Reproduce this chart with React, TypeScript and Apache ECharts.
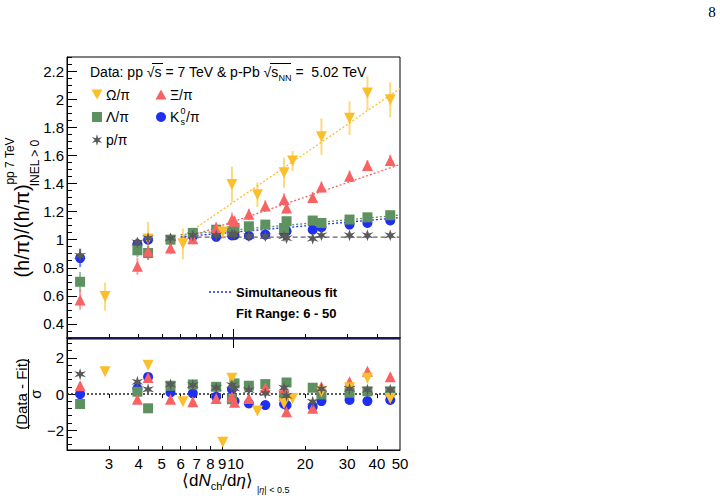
import React, { useEffect, useRef } from "react";
import * as echarts from "echarts";

const FONT = '"Liberation Sans", Arial, Helvetica, sans-serif';

// ---------- data ----------
// <dNch/deta> of the pp 7 TeV classes and of the p-Pb 5.02 TeV classes
const ppX = [2.27, 3.95, 5.44, 6.75, 8.46, 10.1, 11.6, 13.6, 16.7, 21.5];
const pPbX = [4.38, 9.85, 16.3, 23.4, 30.7, 36.5, 45.5];
const omegaPPX = [2.89, 6.13, 9.02, 12.6, 17.7];

const omegaX = [...omegaPPX, ...pPbX];
const commonX = [...ppX, ...pPbX];

// Omega/pi
const omegaY = [0.595, 0.97, 1.055, 1.32, 1.56, 1.005, 1.393, 1.476, 1.733, 1.864, 2.043, 1.995];
const omegaErr = [0.1, 0.11, 0.05, 0.088, 0.071, 0.12, 0.127, 0.107, 0.13, 0.12, 0.124, 0.125];
const omegaRes = [1.23, -0.42, -2.67, -0.94, -0.24, 1.6, 0.87, -0.52, 0.13, 0.35, 0.87, -0.24];

// Xi/pi
const xiY = [0.571, 0.81, 0.94, 1.007, 1.085, 1.131, 1.18, 1.24, 1.226, 1.3, 0.917, 1.143, 1.286, 1.375, 1.452, 1.527, 1.564];
const xiErr = [0.07, 0.06, 0.045, 0.04, 0.04, 0.04, 0.04, 0.04, 0.04, 0.04, 0.06, 0.05, 0.045, 0.04, 0.04, 0.04, 0.04];
const xiRes = [0.46, -0.29, -0.29, -0.42, -0.24, -0.46, -0.24, 0.35, -0.98, -0.79, 0.92, -0.15, 0.31, 0.4, 0.68, 1.27, 0.96];

// Lambda/pi
const lambdaY = [0.7, 0.924, 1.0, 1.048, 1.071, 1.083, 1.095, 1.107, 1.131, 1.136, 0.905, 1.06, 1.083, 1.119, 1.143, 1.159, 1.174];
const lambdaErr = [0.07, 0.05, 0.035, 0.03, 0.03, 0.03, 0.03, 0.03, 0.03, 0.03, 0.05, 0.035, 0.03, 0.03, 0.03, 0.03, 0.03];
const lambdaRes = [-0.55, 0.13, 0.46, 0.53, 0.4, 0.59, 0.46, 0.55, 0.64, 0.35, -0.79, -0.29, -0.1, -0.02, 0.07, 0.15, 0.15];

// K0s/pi
const k0sY = [0.869, 0.969, 1.0, 1.024, 1.02, 1.031, 1.028, 1.036, 1.06, 1.071, 1.0, 1.03, 1.05, 1.088, 1.107, 1.119, 1.136];
const k0sErr = [0.065, 0.03, 0.02, 0.02, 0.02, 0.02, 0.02, 0.02, 0.02, 0.02, 0.03, 0.02, 0.02, 0.02, 0.02, 0.02, 0.02];
const k0sRes = [0.0, 0.31, 0.09, 0.04, -0.15, -0.39, -0.52, -0.61, -0.61, -0.7, 0.95, 0.26, -0.55, -0.39, -0.33, -0.39, -0.33];

// p/pi
const protonY = [0.886, 0.98, 1.01, 1.03, 1.03, 1.036, 1.024, 1.024, 1.01, 1.007, 1.01, 1.04, 1.025, 1.031, 1.031, 1.031, 1.031];
const protonErr = [0.05, 0.03, 0.025, 0.025, 0.025, 0.025, 0.025, 0.025, 0.025, 0.025, 0.03, 0.025, 0.025, 0.025, 0.025, 0.025, 0.025];
const protonRes = [1.1, 0.68, 0.53, 0.5, 0.35, 0.31, 0.22, 0.04, -0.09, -0.42, 0.26, 0.5, 0.35, 0.29, 0.29, 0.24, 0.24];

// simultaneous fit curves (range 6 - 50)
const fitX = [6, 10, 20, 50];
const fitOmega = [1.01, 1.267, 1.615, 2.076];
const fitXi = [1.0, 1.129, 1.303, 1.535];
const fitLambda = [1.035, 1.069, 1.114, 1.175];
const fitK0s = [1.02, 1.053, 1.098, 1.157];
const fitProton = [1.018, 1.018, 1.018, 1.018];

// zero reference line of the residual panel
const zeroLineX = [2, 50];

// axis ticks / labels
const xLabels = [3, 4, 5, 6, 7, 8, 9, 10, 20, 30, 40, 50];
const xMinorTicks = [3, 4, 5, 6, 7, 8, 9, 20, 30, 40];
const xMajorTicks = [10];
const yUpperLabels = [0.4, 0.6, 0.8, 1, 1.2, 1.4, 1.6, 1.8, 2, 2.2];
const yLowerLabels = [-2, 0, 2];
const yLowerMinor = [-2.8, -2.4, -1.6, -1.2, -0.8, -0.4, 0.4, 0.8, 1.2, 1.6, 2.4, 2.8];

const yUpperMinor: number[] = [];
for (let i = 6; i <= 46; i++) {
  const v = +(i * 0.05).toFixed(2);
  if (Math.abs(v * 5 - Math.round(v * 5)) > 1e-6) yUpperMinor.push(v);
}

// ---------- styles ----------
const YELLOW = "#FCBF2C";
const RED = "#F86262";
const GREEN = "#5E9160";
const BLUE = "#1F2FF2";
const GREY = "#595959";

const starPath = (() => {
  const pts: string[] = [];
  for (let i = 0; i < 12; i++) {
    const a = -Math.PI / 2 + (i * Math.PI) / 6;
    const r = i % 2 === 0 ? 10 : 3.6;
    pts.push(`${(r * Math.cos(a)).toFixed(2)} ${(r * Math.sin(a)).toFixed(2)}`);
  }
  return "path://M" + pts.join(" L") + " Z";
})();

const starPoints = (cx: number, cy: number, R: number) => {
  const pts: number[][] = [];
  for (let i = 0; i < 12; i++) {
    const a = -Math.PI / 2 + (i * Math.PI) / 6;
    const r = i % 2 === 0 ? R : R * 0.36;
    pts.push([cx + r * Math.cos(a), cy + r * Math.sin(a)]);
  }
  return pts;
};

type Species = {
  name: string;
  color: string;
  symbol: string;
  rotate: number;
  size: number;
  x: number[];
  y: number[];
  err: number[];
  res: number[];
  fit: number[];
  fitDash: number[];
  fitColor: string;
};

const species: Species[] = [
  { name: "K0s/pi", color: BLUE, symbol: "circle", rotate: 0, size: 10, x: commonX, y: k0sY, err: k0sErr, res: k0sRes, fit: fitK0s, fitDash: [2, 2], fitColor: BLUE },
  { name: "Lambda/pi", color: GREEN, symbol: "rect", rotate: 0, size: 10, x: commonX, y: lambdaY, err: lambdaErr, res: lambdaRes, fit: fitLambda, fitDash: [2, 2], fitColor: GREEN },
  { name: "Xi/pi", color: RED, symbol: "triangle", rotate: 0, size: 11, x: commonX, y: xiY, err: xiErr, res: xiRes, fit: fitXi, fitDash: [2, 2], fitColor: RED },
  { name: "Omega/pi", color: YELLOW, symbol: "triangle", rotate: 180, size: 11, x: omegaX, y: omegaY, err: omegaErr, res: omegaRes, fit: fitOmega, fitDash: [2, 2], fitColor: YELLOW },
  { name: "p/pi", color: GREY, symbol: starPath, rotate: 0, size: 12, x: commonX, y: protonY, err: protonErr, res: protonRes, fit: fitProton, fitDash: [5, 3], fitColor: "#666" },
];

function buildOption() {
  const series: any[] = [];
  species.forEach((s, k) => {
    // error bars
    series.push({
      type: "custom",
      name: s.name + " err",
      xAxisIndex: 0,
      yAxisIndex: 0,
      silent: true,
      z: 2 + k,
      data: s.x.map((x, i) => [x, s.y[i] - s.err[i], s.y[i] + s.err[i]]),
      encode: { x: 0, y: [1, 2] },
      renderItem: (params: any, api: any) => {
        const x = api.value(0);
        const lo = api.coord([x, api.value(1)]);
        const hi = api.coord([x, api.value(2)]);
        return {
          type: "line",
          shape: { x1: lo[0], y1: lo[1], x2: hi[0], y2: hi[1] },
          style: { stroke: s.color, lineWidth: 2, opacity: 0.6 },
        };
      },
    });
    // fit line
    series.push({
      type: "line",
      name: s.name + " fit",
      xAxisIndex: 0,
      yAxisIndex: 0,
      data: fitX.map((x, i) => [x, s.fit[i]]),
      showSymbol: false,
      symbol: "none",
      silent: true,
      z: 1,
      lineStyle: { color: s.fitColor, width: 1.3, type: s.fitDash },
    });
  });
  species.forEach((s, k) => {
    series.push({
      type: "scatter",
      name: s.name,
      xAxisIndex: 0,
      yAxisIndex: 0,
      data: s.x.map((x, i) => [x, s.y[i]]),
      symbol: s.symbol,
      symbolRotate: s.rotate,
      symbolSize: s.size,
      itemStyle: { color: s.color, opacity: 1 },
      z: 10 + k,
    });
    series.push({
      type: "scatter",
      name: s.name + " residual",
      xAxisIndex: 2,
      yAxisIndex: 2,
      data: s.x.map((x, i) => [x, s.res[i]]),
      symbol: s.symbol,
      symbolRotate: s.rotate,
      symbolSize: s.size,
      itemStyle: { color: s.color, opacity: 1 },
      z: 10 + k,
    });
  });
  series.push({
    type: "line",
    name: "zero",
    xAxisIndex: 2,
    yAxisIndex: 2,
    data: zeroLineX.map((x) => [x, 0]),
    showSymbol: false,
    symbol: "none",
    silent: true,
    z: 1,
    lineStyle: { color: "#222", width: 1.5, type: [2, 2] },
  });

  const fmtX = (v: number) => {
    const r = Math.round(v);
    return r === 10 ? "{t|10}" : r === 9 ? "{u|9}" : String(r);
  };
  const fmtY = (v: number) => {
    const r = +(+v).toFixed(2);
    return r < 0 ? "\u2212" + String(-r) : String(r);
  };

  const xBase = (grid: number, pos: "top" | "bottom") => ({
    gridIndex: grid,
    type: "log",
    logBase: 10,
    min: 2,
    max: 50,
    position: pos,
    splitLine: { show: false },
    minorTick: { show: false },
    axisLabel: { show: false },
    axisLine: { show: false },
  });

  const xAxis: any[] = [
    { ...xBase(0, "bottom"), axisLine: { show: true, onZero: false, lineStyle: { color: "#1b1b4d", width: 2 } }, axisTick: { show: true, inside: true, length: 4, customValues: xMinorTicks, lineStyle: { color: "#000" } } },
    { ...xBase(0, "bottom"), axisTick: { show: true, inside: true, length: 9, customValues: xMajorTicks, lineStyle: { color: "#000" } } },
    {
      ...xBase(1, "bottom"),
      axisLine: { show: true, onZero: false, lineStyle: { color: "#000", width: 1 } },
      axisTick: { show: true, inside: true, length: 4, customValues: xMinorTicks, lineStyle: { color: "#000" } },
      axisLabel: {
        show: true,
        customValues: xLabels,
        formatter: fmtX,
        fontSize: 15,
        fontFamily: FONT,
        color: "#000",
        margin: 6,
        rich: {
          t: { fontSize: 15, fontFamily: FONT, color: "#000", padding: [0, 0, 0, 4] },
          u: { fontSize: 15, fontFamily: FONT, color: "#000", padding: [0, 1, 0, 0] },
        },
      },
    },
    { ...xBase(1, "bottom"), axisTick: { show: true, inside: true, length: 9, customValues: xMajorTicks, lineStyle: { color: "#000" } } },
    { ...xBase(1, "top"), axisTick: { show: true, inside: true, length: 4, customValues: xMinorTicks, lineStyle: { color: "#000" } } },
    { ...xBase(1, "top"), axisTick: { show: true, inside: true, length: 9, customValues: xMajorTicks, lineStyle: { color: "#000" } } },
  ];

  const yBase = (grid: number, min: number, max: number) => ({
    gridIndex: grid,
    type: "value",
    min,
    max,
    position: "left",
    splitLine: { show: false },
    axisLabel: { show: false },
    axisLine: { show: false },
  });

  const yAxis: any[] = [
    {
      ...yBase(0, 0.3, 2.3),
      axisLine: { show: true, onZero: false, lineStyle: { color: "#000", width: 1 } },
      axisTick: { show: true, inside: true, length: 10, customValues: yUpperLabels, lineStyle: { color: "#000" } },
      axisLabel: { show: true, customValues: yUpperLabels, formatter: fmtY, fontSize: 15, fontFamily: FONT, color: "#000", margin: 3 },
    },
    { ...yBase(0, 0.3, 2.3), axisTick: { show: true, inside: true, length: 5, customValues: yUpperMinor, lineStyle: { color: "#000" } } },
    {
      ...yBase(1, -3.1, 3.05),
      axisLine: { show: true, onZero: false, lineStyle: { color: "#000", width: 1 } },
      axisTick: { show: true, inside: true, length: 10, customValues: yLowerLabels, lineStyle: { color: "#000" } },
      axisLabel: { show: true, customValues: yLowerLabels, formatter: fmtY, fontSize: 15, fontFamily: FONT, color: "#000", margin: 3 },
    },
    { ...yBase(1, -3.1, 3.05), axisTick: { show: true, inside: true, length: 5, customValues: yLowerMinor, lineStyle: { color: "#000" } } },
  ];

  const txt = (x: number, y: number, text: string, size: number, extra: any = {}, rot = 0) => ({
    type: "text",
    x,
    y,
    rotation: rot,
    silent: true,
    style: {
      text,
      fontSize: size,
      fontFamily: FONT,
      fill: "#000",
      align: "left",
      verticalAlign: "middle",
      ...extra,
    },
  });

  const R90 = Math.PI / 2;

  const graphic: any[] = [
    txt(712, 12, "8", 15, { fontFamily: '"Liberation Serif", "DejaVu Serif", serif', align: "center" }),
    // header
    {
      type: "text",
      x: 90,
      y: 72,
      silent: true,
      style: {
        text: "{n|Data: pp √s = 7 TeV & p-Pb √s}{sub|NN}{n| =  5.02 TeV}",
        verticalAlign: "middle",
        align: "left",
        rich: {
          n: { fontSize: 14, fontFamily: FONT, fill: "#000", lineHeight: 20 },
          sub: { fontSize: 9, fontFamily: FONT, fill: "#000", lineHeight: 10, verticalAlign: "bottom" },
        },
      },
    },
    { type: "line", silent: true, shape: { x1: 152, y1: 63.5, x2: 163, y2: 63.5 }, style: { stroke: "#000", lineWidth: 1 } },
    { type: "line", silent: true, shape: { x1: 270, y1: 63.5, x2: 291, y2: 63.5 }, style: { stroke: "#000", lineWidth: 1 } },
    // legend
    { type: "polygon", silent: true, shape: { points: [[91.5, 89.5], [102.5, 89.5], [97, 99.5]] }, style: { fill: YELLOW } },
    txt(106, 95, "Ω/π", 14),
    { type: "polygon", silent: true, shape: { points: [[155.5, 99.5], [166.5, 99.5], [161, 89.5]] }, style: { fill: RED } },
    txt(170, 95, "Ξ/π", 14),
    { type: "rect", silent: true, shape: { x: 92, y: 112, width: 10, height: 10 }, style: { fill: GREEN } },
    txt(106, 117, "Λ/π", 14),
    { type: "circle", silent: true, shape: { cx: 161, cy: 117, r: 5 }, style: { fill: BLUE } },
    txt(170, 117, "K", 14),
    txt(180.5, 111, "0", 9),
    txt(180.5, 122, "s", 9),
    txt(186, 117, "/π", 14),
    { type: "polygon", silent: true, shape: { points: starPoints(97, 140, 6) }, style: { fill: GREY } },
    txt(106, 140, "p/π", 14),
    // fit legend
    { type: "line", silent: true, shape: { x1: 209, y1: 292, x2: 231, y2: 292 }, style: { stroke: BLUE, lineWidth: 1.3, lineDash: [2, 2] } },
    txt(236, 292, "Simultaneous fit", 13, { fontWeight: "bold" }),
    txt(236, 313, "Fit Range: 6 - 50", 13, { fontWeight: "bold" }),
    // upper y title
    txt(22, 231, "(h/π)/(h/π)", 20, { align: "center" }, R90),
    txt(10, 161, "pp 7 TeV", 12, { align: "center" }, R90),
    txt(35, 163, "INEL > 0", 12, { align: "center" }, R90),
    // lower y title
    txt(21, 394, "(Data - Fit)", 15, { align: "center" }, R90),
    { type: "line", silent: true, shape: { x1: 28.5, y1: 359, x2: 28.5, y2: 429 }, style: { stroke: "#000", lineWidth: 1 } },
    txt(35, 394, "σ", 15, { align: "center" }, R90),
    // x title
    {
      type: "text",
      x: 182,
      y: 480,
      silent: true,
      style: {
        text: "{n|⟨d}{i|N}{s|ch}{n|/d}{i|η}{n|⟩}",
        verticalAlign: "middle",
        align: "left",
        rich: {
          n: { fontSize: 17, fontFamily: FONT, fill: "#000", lineHeight: 22 },
          i: { fontSize: 17, fontFamily: FONT, fontStyle: "italic", fill: "#000", lineHeight: 22 },
          s: { fontSize: 11, fontFamily: FONT, fill: "#000", lineHeight: 10, verticalAlign: "bottom" },
        },
      },
    },
    {
      type: "text",
      x: 257,
      y: 490,
      silent: true,
      style: {
        text: "{n||}{i|η}{n|| < 0.5}",
        verticalAlign: "middle",
        align: "left",
        rich: {
          n: { fontSize: 9, fontFamily: FONT, fill: "#000" },
          i: { fontSize: 9, fontFamily: FONT, fontStyle: "italic", fill: "#000" },
        },
      },
    },
  ];

  return {
    animation: false,
    backgroundColor: "#fff",
    grid: [
      { left: 67, top: 57, width: 333, height: 281, show: true, borderColor: "#000", borderWidth: 1, backgroundColor: "transparent" },
      { left: 67, top: 339, width: 333, height: 111, show: true, borderColor: "#000", borderWidth: 1, backgroundColor: "transparent" },
    ],
    xAxis,
    yAxis,
    series,
    graphic,
  };
}

export default function App() {
  const ref = useRef<HTMLDivElement>(null);
  useEffect(() => {
    if (!ref.current) return;
    const chart = echarts.init(ref.current, null, { renderer: "svg" });
    chart.setOption(buildOption() as any);
    return () => chart.dispose();
  }, []);
  return (
    <div
      ref={ref}
      style={{ position: "absolute", left: 0, top: 0, width: 720, height: 499, background: "#fff" }}
    />
  );
}
